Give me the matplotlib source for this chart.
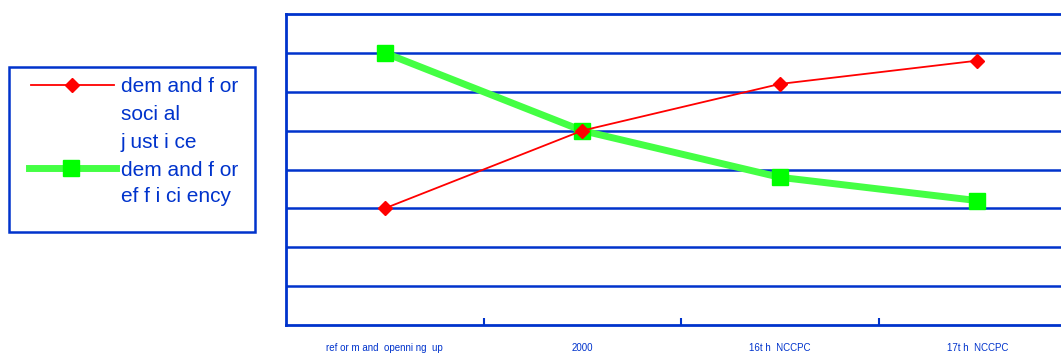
import matplotlib.pyplot as plt
from matplotlib.lines import Line2D
from matplotlib.patches import Rectangle

categories = ['ref or m and  openni ng  up', '2000', '16t h  NCCPC', '17t h  NCCPC']
social_justice = [3.0, 5.0, 6.2, 6.8]
efficiency = [7.0, 5.0, 3.8, 3.2]
legend_lines = [['dem and f or', 'soci al', 'j ust i ce'], ['dem and f or', 'ef f i ci ency']]

blue = '#0033cc'
red = '#ff0000'
green_line = '#44ff44'
green_mark = '#00ff00'
plt.rcParams['font.family'] = ['Liberation Sans', 'DejaVu Sans']

fig = plt.figure(figsize=(10.61, 3.54), dpi=100)
ax = fig.add_axes([286 / 1061, 29 / 354, 790 / 1061, 311 / 354])

x = range(len(categories))
ax.plot(x, social_justice, color=red, lw=1.3, marker='D', ms=7,
        mec=red, mfc=red, zorder=4)
ax.plot(x, efficiency, color=green_line, lw=5, marker='s', ms=11,
        mec=green_mark, mfc=green_mark, zorder=3)

ax.set_xlim(-0.5, 3.5)
ax.set_ylim(0, 8)
for y in range(1, 8):
    ax.axhline(y, color=blue, lw=1.8, zorder=1)
for s in ax.spines.values():
    s.set_color(blue)
    s.set_linewidth(2)
ax.set_yticks([])
ax.set_xticks(list(x))
ax.set_xticklabels(categories, fontsize=7, color=blue)
ax.tick_params(axis='x', which='major', length=0, pad=13)
ax.set_xticks([0.5, 1.5, 2.5], minor=True)
ax.tick_params(axis='x', which='minor', length=5, width=1.5, color=blue, direction='in')

# legend box drawn by hand
W, H = 1061, 354
fig.add_artist(Rectangle((9 / W, 1 - 232 / H), 246 / W, 165 / H,
                         transform=fig.transFigure, fill=False, ec=blue, lw=1.8))
fig.add_artist(Line2D([31 / W, 114 / W], [1 - 85 / H] * 2, transform=fig.transFigure,
                      color=red, lw=1.3))
fig.add_artist(Line2D([72 / W], [1 - 85 / H], transform=fig.transFigure,
                      color=red, marker='D', ms=7, ls='none'))
fig.add_artist(Line2D([29 / W, 116 / W], [1 - 168 / H] * 2, transform=fig.transFigure,
                      color=green_line, lw=5))
fig.add_artist(Line2D([71 / W], [1 - 168 / H], transform=fig.transFigure,
                      color=green_mark, marker='s', ms=11, ls='none'))
row_y = [86, 114, 142, 170, 197]
rows = legend_lines[0] + legend_lines[1]
for txt, yy in zip(rows, row_y):
    fig.text(121 / W, 1 - yy / H, txt, fontsize=15, color=blue,
             va='center', ha='left')

fig.savefig('out.png', dpi=100)
